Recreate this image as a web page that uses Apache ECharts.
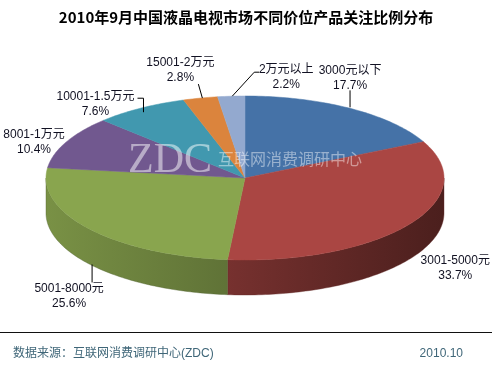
<!DOCTYPE html>
<html><head><meta charset="utf-8">
<script src="https://cdn.jsdelivr.net/npm/echarts@6/dist/echarts.min.js"></script>
<style>html,body{margin:0;padding:0;background:#fff}#c{width:492px;height:366px}</style>
</head><body><div id="c"></div>
<script>
// ---- data ----
const categories = ['3000元以下','3001-5000元','5001-8000元','8001-1万元','10001-1.5万元','15001-2万元','2万元以上'];
const values = [17.7, 33.7, 25.6, 10.4, 7.6, 2.8, 2.2];
const titleText = '2010年9月中国液晶电视市场不同价位产品关注比例分布';
const sourceText = '数据来源：互联网消费调研中心(ZDC)';
const dateText = '2010.10';

// ---- style / layout ----
const colors = ['#4572A7','#AA4643','#89A54E','#71588F','#4198AF','#DB843D','#93A9CF'];
const CX = 245, CY = 178, RX = 199, RY = 82, DEPTH = 35;
const FONT = '"Liberation Sans", Arial, "Noto Sans CJK SC", sans-serif';
// label offsets relative to each slice's rim anchor, and leader line points (relative)
const labelLayout = [
  {dx: 0,   dy: -30.5, line: [[0,-1],[0,-18]]},
  {dx: 46,  dy: 8.5,   line: null},
  {dx: -21, dy: 31.5,  line: [[2,0],[2,18]]},
  {dx: -32, dy: 0.5,   line: null},
  {dx: -45, dy: -4.5,  line: [[3,4],[3,-10],[-3,-10]]},
  {dx: -20, dy: -27.5, line: [[2,0],[-2,-14]]},
  {dx: 55,  dy: -19.5, line: [[1,0],[23,-24],[28,-24]]}
];

const total = values.reduce((a,b)=>a+b,0);
const starts = []; (function(){ let acc=0; values.forEach(v=>{starts.push(acc/total*360); acc+=v;}); })();

function pt(deg, dy){ const r = deg*Math.PI/180; return [CX+RX*Math.sin(r), CY-RY*Math.cos(r)+(dy||0)]; }
function arc(a0, a1, dy){ const pts=[]; const n=Math.max(2,Math.ceil(a1-a0)); for(let i=0;i<=n;i++) pts.push(pt(a0+(a1-a0)*i/n, dy)); return pts; }
function shade(hex, f){
  const n = parseInt(hex.slice(1),16);
  const r = Math.round(((n>>16)&255)*f), g = Math.round(((n>>8)&255)*f), b = Math.round((n&255)*f);
  return 'rgb('+r+','+g+','+b+')';
}
function sideFill(c){
  return {type:'linear', x: CX-RX, y: 0, x2: CX+RX, y2: 0, global: true,
    colorStops: [{offset:0, color: shade(c,0.88)}, {offset:0.45, color: shade(c,0.7)}, {offset:1, color: shade(c,0.44)}]};
}

function renderItem(params, api){
  const i = params.dataIndex;
  const v = api.value(0);
  const a0 = starts[i], a1 = a0 + v/total*360;
  const children = [];
  const s = Math.max(a0, 90), e = Math.min(a1, 270);
  if (s < e) {
    const top = arc(s, e, 0), bot = arc(s, e, DEPTH).reverse();
    children.push({type:'polygon', z2: 1, shape:{points: top.concat(bot)},
      style:{fill: sideFill(colors[i]), stroke: shade(colors[i],0.6), lineWidth: 0.4}});
  }
  children.push({type:'polygon', z2: 2, shape:{points: [[CX,CY]].concat(arc(a0, a1, 0))},
    style:{fill: colors[i], stroke: colors[i], lineWidth: 0.5}});
  const mid = (a0+a1)/2;
  const anchor = pt(mid, (mid>90 && mid<270) ? DEPTH : 0);
  const L = labelLayout[i];
  if (L.line) {
    children.push({type:'polyline', z2: 3, shape:{points: L.line.map(p=>[anchor[0]+p[0], anchor[1]+p[1]])},
      style:{stroke:'#000', lineWidth:1, fill:null}});
  }
  children.push({type:'text', z2: 4, style:{
    text: categories[i] + '\n' + values[i].toFixed(1) + '%',
    x: anchor[0]+L.dx, y: anchor[1]+L.dy, align:'center', verticalAlign:'middle',
    fontSize: 12, fontFamily: FONT, lineHeight: 15, fill: '#111122'}});
  return {type:'group', children};
}

const chart = echarts.init(document.getElementById('c'), null, {renderer:'canvas'});
chart.setOption({
  animation: false,
  backgroundColor: '#fff',
  title: {text: titleText, left: 'center', top: 5,
    textStyle: {fontSize: 15, fontWeight: 'bold', color: '#000', fontFamily: '"Noto Sans CJK SC", "Liberation Sans", sans-serif'}},
  series: [{type:'custom', coordinateSystem:'none', renderItem, data: values.map(v=>[v]), silent: true}],
  graphic: [
    {type:'text', z: 50, style:{text:'ZDC', x: 170, y: 161, align:'center', verticalAlign:'middle',
      fontSize: 42, fontFamily: '"Liberation Serif", "DejaVu Serif", serif', fill:'rgba(255,255,255,0.5)'}},
    {type:'text', z: 50, style:{text:'互联网消费调研中心', x: 218, y: 159, align:'left', verticalAlign:'middle',
      fontSize: 16, fontFamily: '"Noto Sans CJK SC", sans-serif', fill:'rgba(255,255,255,0.45)'}},
    {type:'line', z: 50, shape:{x1:0, y1:332.5, x2:492, y2:332.5}, style:{stroke:'#111', lineWidth:1}},
    {type:'text', z: 50, style:{text: sourceText, x: 13, y: 354, align:'left', verticalAlign:'middle',
      fontSize: 12, fontFamily: FONT, fill:'#3f6678'}},
    {type:'text', z: 50, style:{text: dateText, x: 463, y: 354, align:'right', verticalAlign:'middle',
      fontSize: 12, fontFamily: FONT, fill:'#3f6678'}}
  ]
});
</script>
</body></html>
